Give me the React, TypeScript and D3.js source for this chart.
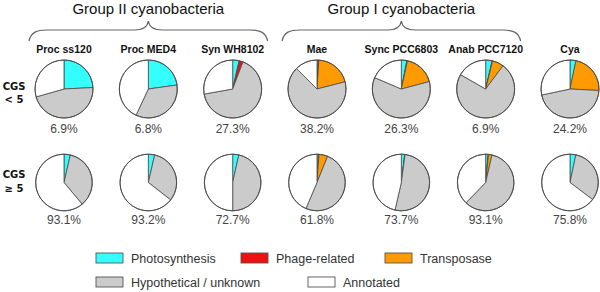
import React from "react";
import * as d3 from "d3";

// ---- data ----
const columns = ["Proc ss120", "Proc MED4", "Syn WH8102", "Mae", "Sync PCC6803", "Anab PCC7120", "Cya"];
const categories = ["Photosynthesis", "Phage-related", "Transposase", "Hypothetical / unknown", "Annotated"];
const rowLabels = [["CGS", "< 5"], ["CGS", "\u2265 5"]];
const groups = [
  { name: "Group II cyanobacteria", first: 0, last: 2 },
  { name: "Group I cyanobacteria", first: 3, last: 5 },
];

// slice shares (%) per column, order = categories
const smallCGS = [
  [24.2, 0, 0, 46.4, 29.4],
  [22.8, 0, 0, 34.2, 43.0],
  [3.6, 2.2, 0, 66.4, 27.8],
  [0.6, 0.4, 20.0, 66.4, 12.5],
  [3.1, 0.3, 17.5, 60.6, 18.6],
  [3.6, 0.2, 6.4, 73.0, 16.7],
  [3.3, 0, 22.5, 45.8, 28.3],
];
const largeCGS = [
  [3.6, 0, 0, 35.3, 61.1],
  [3.6, 0, 0, 31.9, 64.4],
  [3.5, 0, 0, 46.5, 50.0],
  [0.8, 0.3, 5.0, 50.3, 43.6],
  [1.9, 0.2, 0, 51.5, 46.4],
  [1.4, 0.2, 2.0, 58.7, 37.8],
  [3.3, 0, 0, 32.0, 64.7],
];
const smallPct = ["6.9%", "6.8%", "27.3%", "38.2%", "26.3%", "6.9%", "24.2%"];
const largePct = ["93.1%", "93.2%", "72.7%", "61.8%", "73.7%", "93.1%", "75.8%"];

// ---- styles / layout ----
const W = 600, H = 292;
const colors = ["#33ffff", "#ee1111", "#ff9a00", "#cbcbcb", "#ffffff"];
const stroke = "#4a4a4a";
const font = "Liberation Sans, Arial, sans-serif";
const rows = [
  { cy: 89, r: 29, data: smallCGS, pct: smallPct, pctY: 133, labelY: [90, 103] },
  { cy: 182.5, r: 28.3, data: largeCGS, pct: largePct, pctY: 224, labelY: [178, 192] },
];
const legendItems = [
  { i: 0, x: 96, y: 253 },
  { i: 1, x: 241, y: 253 },
  { i: 2, x: 385, y: 253 },
  { i: 3, x: 96, y: 277 },
  { i: 4, x: 308, y: 277 },
];

export default function App() {
  const x = d3.scalePoint<string>().domain(columns).range([64, 570]);
  const pie = d3.pie<number>().sort(null).value((d) => d);

  const brace = (x0: number, x1: number) => {
    const mid = (x0 + x1) / 2;
    const yb = 30, yt = 21, ye = 41;
    return `M${x0},${ye} C${x0 + 2},${yb + 2} ${x0 + 8},${yb} ${x0 + 18},${yb}` +
      ` L${mid - 14},${yb} C${mid - 6},${yb} ${mid - 1},${yb - 2} ${mid},${yt}` +
      ` C${mid + 1},${yb - 2} ${mid + 6},${yb} ${mid + 14},${yb}` +
      ` L${x1 - 18},${yb} C${x1 - 8},${yb} ${x1 - 2},${yb + 2} ${x1},${ye}`;
  };

  return (
    <svg width={W} height={H} style={{ position: "absolute", left: 0, top: 0, background: "#fff" }}>
      {groups.map((g) => {
        const x0 = (x(columns[g.first]) as number) - 35;
        const x1 = (x(columns[g.last]) as number) + 35;
        return (
          <g key={g.name}>
            <text x={(x0 + x1) / 2} y={14} textAnchor="middle" fontFamily={font} fontSize={15} fill="#111">
              {g.name}
            </text>
            <path d={brace(x0, x1)} fill="none" stroke="#666" strokeWidth={1.2} />
          </g>
        );
      })}
      {columns.map((c) => (
        <text key={c} x={x(c)} y={53} textAnchor="middle" fontFamily={font} fontWeight="bold" fontSize={10.5} fill="#111">
          {c}
        </text>
      ))}
      {rows.map((row, ri) => {
        const arc = d3.arc<d3.PieArcDatum<number>>().innerRadius(0).outerRadius(row.r);
        return (
          <g key={ri}>
            {rowLabels[ri].map((t, k) => (
              <text key={k} x={14} y={row.labelY[k]} textAnchor="middle" fontFamily="DejaVu Sans, sans-serif" fontWeight="bold" fontSize={10} fill="#111">
                {t}
              </text>
            ))}
            {columns.map((c, ci) => {
              const cx = x(c) as number;
              const arcs = pie(row.data[ci]);
              return (
                <g key={c}>
                  <g transform={`translate(${cx},${row.cy})`}>
                    {arcs.map((a, k) =>
                      a.value > 0 ? (
                        <path key={k} d={arc(a) || ""} fill={colors[k]} stroke={stroke} strokeWidth={0.8} strokeLinejoin="round" />
                      ) : null
                    )}
                    <circle r={row.r} fill="none" stroke={stroke} strokeWidth={0.9} />
                  </g>
                  <text x={cx} y={row.pctY} textAnchor="middle" fontFamily={font} fontSize={12} fill="#444">
                    {row.pct[ci]}
                  </text>
                </g>
              );
            })}
          </g>
        );
      })}
      {legendItems.map((l) => (
        <g key={l.i}>
          <rect x={l.x} y={l.y} width={27} height={10} fill={colors[l.i]} stroke="#555" strokeWidth={0.9} />
          <text x={l.x + 35} y={l.y + 10} fontFamily={font} fontSize={12.5} fill="#333">
            {categories[l.i]}
          </text>
        </g>
      ))}
    </svg>
  );
}
